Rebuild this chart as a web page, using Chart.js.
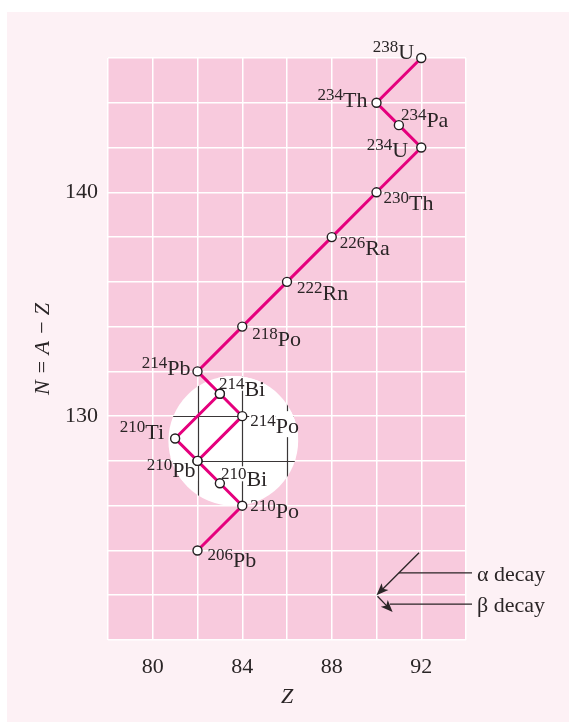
<!DOCTYPE html>
<html>
<head>
<meta charset="utf-8">
<script src="https://cdn.jsdelivr.net/npm/chart.js@4.4.1/dist/chart.umd.min.js"></script>
<style>
  html, body { margin: 0; padding: 0; background: #fff; }
  canvas { display: block; }
</style>
</head>
<body>
<canvas id="decayChart" width="569" height="722"></canvas>
<script>
// U-238 decay chain, proton number Z and neutron number N of each step
const mainSymbols = ['U', 'Th', 'Pa', 'U', 'Th', 'Ra', 'Rn', 'Po', 'Pb', 'Bi', 'Po', 'Pb', 'Bi', 'Po', 'Pb'];
const mainMass = [238, 234, 234, 234, 230, 226, 222, 218, 214, 214, 214, 210, 210, 210, 206];
const mainZ = [92, 90, 91, 92, 90, 88, 86, 84, 82, 83, 84, 82, 83, 84, 82];
const mainN = [146, 144, 143, 142, 140, 138, 136, 134, 132, 131, 130, 128, 127, 126, 124];

// side branch 214Bi -> 210Ti -> 210Pb
const branchSymbols = ['Bi', 'Ti', 'Pb'];
const branchMass = [214, 210, 210];
const branchZ = [83, 81, 82];
const branchN = [131, 129, 128];

const xTickLabels = [80, 84, 88, 92];
const yTickLabels = [130, 140];
const legendLabels = ['\u03b1 decay', '\u03b2 decay'];

const MAGENTA = '#e5007d';
const PLOT_PINK = '#f8cadd';
const PANEL_PINK = '#fdf1f5';
const INK = '#2a2526';
const SERIF = '"Liberation Serif", "DejaVu Serif", serif';
const MAIN_FONT = '22px ' + SERIF;
const SUP_FONT = '17px ' + SERIF;

// where each label sits next to its point: [align, dx px, baseline dy px]
const labelPlace = {
  '238U': ['right', -7, 1],
  '234Th': ['right', -9, 4],
  '234Pa': ['left', 2, 2],
  '234U': ['right', -13, 9],
  '230Th': ['left', 7, 18],
  '226Ra': ['left', 8, 18],
  '222Rn': ['left', 10, 18],
  '218Po': ['left', 10, 19],
  '214Pb': ['right', -7, 4],
  '214Bi': ['left', -1, 2],
  '214Po': ['left', 8, 17],
  '210Ti': ['right', -11, 0],
  '210Pb': ['right', -2, 16],
  '210Bi': ['left', 1, 3],
  '210Po': ['left', 8, 12],
  '206Pb': ['left', 10, 17],
};

const toPoints = (zs, ns) => zs.map((z, i) => ({ x: z, y: ns[i] }));

function nuclideItems() {
  const seen = new Set();
  const items = [];
  const add = (syms, mass, zs, ns) => syms.forEach((s, i) => {
    const key = mass[i] + s;
    if (seen.has(key) || !labelPlace[key]) return;
    seen.add(key);
    items.push({ key, sym: s, mass: mass[i], z: zs[i], n: ns[i] });
  });
  add(mainSymbols, mainMass, mainZ, mainN);
  add(branchSymbols, branchMass, branchZ, branchN);
  return items;
}

function labelLayout(ctx, chart, item) {
  const { x: sx, y: sy } = chart.scales;
  const [align, dx, dy] = labelPlace[item.key];
  const px = sx.getPixelForValue(item.z) + dx;
  const base = sy.getPixelForValue(item.n) + dy;
  ctx.font = SUP_FONT;
  const ws = ctx.measureText(String(item.mass)).width;
  ctx.font = MAIN_FONT;
  const wm = ctx.measureText(item.sym).width;
  const x0 = align === 'right' ? px - ws - wm : px;
  return { x0, base, ws, wm };
}

const decorPlugin = {
  id: 'decor',
  beforeDraw(chart) {
    const { ctx, chartArea: a } = chart;
    ctx.save();
    ctx.fillStyle = '#ffffff';
    ctx.fillRect(0, 0, chart.width, chart.height);
    ctx.fillStyle = PANEL_PINK;
    ctx.fillRect(7, 12, chart.width - 7, chart.height - 12);
    ctx.fillStyle = PLOT_PINK;
    ctx.fillRect(a.left, a.top, a.right - a.left, a.bottom - a.top);
    ctx.restore();
  },
  beforeDatasetsDraw(chart) {
    const { ctx, chartArea: a } = chart;
    const { x: sx, y: sy } = chart.scales;
    const cx = sx.getPixelForValue(83.6);
    const cy = sy.getPixelForValue(128.9);
    const r = Math.abs(sx.getPixelForValue(2.9) - sx.getPixelForValue(0));
    ctx.save();
    ctx.beginPath();
    ctx.arc(cx, cy, r, 0, Math.PI * 2);
    ctx.fillStyle = '#ffffff';
    ctx.fill();
    ctx.clip();
    // dark grid lines inside the magnifier circle
    ctx.strokeStyle = '#3a3637';
    ctx.lineWidth = 1.2;
    ctx.beginPath();
    for (let z = sx.min; z <= sx.max; z += 2) {
      const px = Math.round(sx.getPixelForValue(z)) + 0.5;
      ctx.moveTo(px, a.top); ctx.lineTo(px, a.bottom);
    }
    for (let n = sy.min; n <= sy.max; n += 2) {
      const py = Math.round(sy.getPixelForValue(n)) + 0.5;
      ctx.moveTo(a.left, py); ctx.lineTo(a.right, py);
    }
    ctx.stroke();
    // labels knock the lines out
    ctx.fillStyle = '#ffffff';
    nuclideItems().forEach((it) => {
      const L = labelLayout(ctx, chart, it);
      ctx.fillRect(L.x0 - 1, L.base - 20, L.ws + 1, 15);
      ctx.fillRect(L.x0 + L.ws, L.base - 22, L.wm + 2, 26);
    });
    ctx.restore();
  },
  afterDatasetsDraw(chart) {
    const { ctx, chartArea: a } = chart;
    const { x: sx, y: sy } = chart.scales;
    ctx.save();
    ctx.fillStyle = INK;
    ctx.textAlign = 'left';
    ctx.textBaseline = 'alphabetic';
    nuclideItems().forEach((it) => {
      const L = labelLayout(ctx, chart, it);
      ctx.font = SUP_FONT;
      ctx.fillText(String(it.mass), L.x0, L.base - 7);
      ctx.font = MAIN_FONT;
      ctx.fillText(it.sym, L.x0 + L.ws, L.base);
    });

    // key: alpha step (-2,-2) and beta step (+1,-1)
    const P = (z, n) => [sx.getPixelForValue(z), sy.getPixelForValue(n)];
    const arrow = (from, to, head) => {
      const ang = Math.atan2(to[1] - from[1], to[0] - from[0]);
      ctx.beginPath();
      ctx.moveTo(from[0], from[1]);
      ctx.lineTo(to[0] - Math.cos(ang) * head * 0.6, to[1] - Math.sin(ang) * head * 0.6);
      ctx.stroke();
      ctx.beginPath();
      ctx.moveTo(to[0], to[1]);
      ctx.lineTo(to[0] - head * Math.cos(ang - 0.38), to[1] - head * Math.sin(ang - 0.38));
      ctx.lineTo(to[0] - head * 0.7 * Math.cos(ang), to[1] - head * 0.7 * Math.sin(ang));
      ctx.lineTo(to[0] - head * Math.cos(ang + 0.38), to[1] - head * Math.sin(ang + 0.38));
      ctx.closePath();
      ctx.fill();
    };
    ctx.strokeStyle = INK;
    ctx.lineWidth = 1.3;
    const aFrom = P(91.9, 123.9), aTo = P(90, 122);
    arrow(aFrom, aTo, 13);
    const bTo = P(90.72, 121.25);
    arrow([aTo[0] + 1, aTo[1] + 1], bTo, 13);
    const aMid = P(91, 123);
    const bMid = P(90.6, 121.6);
    const textX = a.right + 11;
    ctx.beginPath();
    ctx.moveTo(aMid[0], aMid[1]); ctx.lineTo(a.right + 6, aMid[1]);
    ctx.moveTo(bMid[0], bMid[1]); ctx.lineTo(a.right + 6, bMid[1]);
    ctx.stroke();
    ctx.font = MAIN_FONT;
    ctx.fillText(legendLabels[0], textX, aMid[1] + 8);
    ctx.fillText(legendLabels[1], textX, bMid[1] + 8);
    ctx.restore();
  },
};

const pointStyle = {
  borderColor: MAGENTA,
  borderWidth: 3,
  showLine: true,
  clip: false,
  pointRadius: 4.5,
  pointBackgroundColor: '#ffffff',
  pointBorderColor: '#231f20',
  pointBorderWidth: 1.4,
};

new Chart(document.getElementById('decayChart'), {
  type: 'scatter',
  data: {
    datasets: [
      { label: 'branch', data: toPoints(branchZ, branchN), ...pointStyle },
      { label: 'chain', data: toPoints(mainZ, mainN), ...pointStyle },
    ],
  },
  options: {
    responsive: false,
    animation: false,
    layout: { padding: { top: 58, right: 103, left: 0, bottom: 0 } },
    plugins: { legend: { display: false }, tooltip: { enabled: false } },
    scales: {
      x: {
        min: 78,
        max: 94,
        afterFit: (s) => { s.height = 82; },
        border: { display: false },
        grid: { color: '#ffffff', lineWidth: 1.5, drawTicks: false },
        ticks: {
          stepSize: 2,
          autoSkip: false,
          maxRotation: 0,
          padding: 14,
          color: INK,
          font: { family: SERIF, size: 22 },
          callback: (v) => (xTickLabels.includes(v) ? String(v) : ''),
        },
        title: {
          display: true,
          text: 'Z',
          color: INK,
          font: { family: SERIF, size: 22, style: 'italic' },
          padding: { top: 0, bottom: 12 },
        },
      },
      y: {
        min: 120,
        max: 146,
        afterFit: (s) => { s.width = 108; },
        border: { display: false },
        grid: { color: '#ffffff', lineWidth: 1.5, drawTicks: false },
        ticks: {
          stepSize: 2,
          autoSkip: false,
          padding: 10,
          color: INK,
          font: { family: SERIF, size: 22 },
          callback: (v) => (yTickLabels.includes(v) ? String(v) : ''),
        },
        title: {
          display: true,
          text: 'N = A \u2212 Z',
          color: INK,
          font: { family: SERIF, size: 22, style: 'italic' },
          padding: { top: 30, bottom: 0 },
        },
      },
    },
  },
  plugins: [decorPlugin],
});
</script>
</body>
</html>
